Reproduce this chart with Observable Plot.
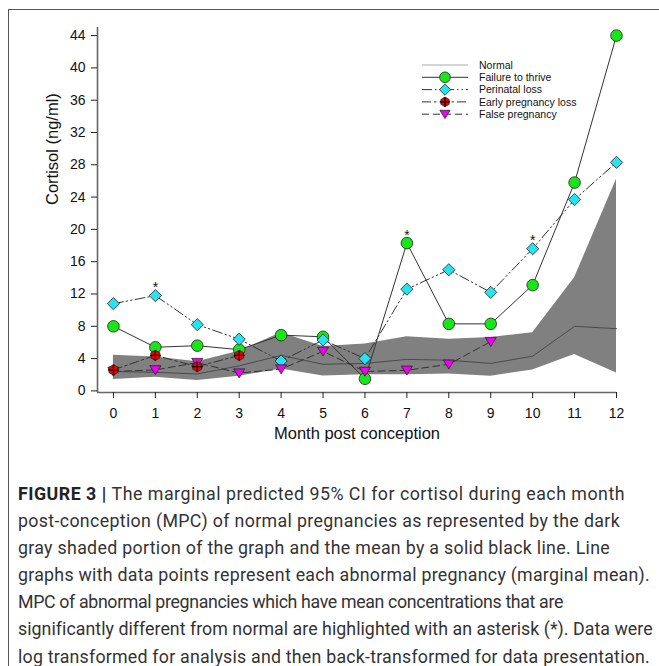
<!DOCTYPE html>
<html><head><meta charset="utf-8">
<script src="https://cdn.jsdelivr.net/npm/d3@7"></script>
<script src="https://cdn.jsdelivr.net/npm/@observablehq/plot@0.6"></script>
<style>
html,body{margin:0;padding:0;background:#fff;overflow:hidden;width:659px;height:666px;}
#frame{position:absolute;left:8px;top:9px;width:700px;height:700px;border-top:1.5px solid #555;border-left:1.5px solid #555;box-sizing:border-box;}
#chart{position:absolute;left:0;top:0;}
#caption{position:absolute;left:18px;top:484px;font-family:Roboto,"Liberation Sans",sans-serif;font-size:17.8px;line-height:20px;color:#333;white-space:nowrap;}
#caption div{height:27.1px;}
#caption div span{display:inline-block;}
#caption b{color:#222;}
</style></head><body>
<div id="frame"></div>
<div id="chart"></div>
<div id="caption"></div>
<script>
// ---------- data ----------
const months = [0,1,2,3,4,5,6,7,8,9,10,11,12];
const yTicks = [0,4,8,12,16,20,24,28,32,36,40,44];

const normalMean  = [2.4, 2.3, 2.1, 3.1, 4.4, 3.3, 3.4, 3.9, 3.8, 3.4, 4.3, 8.0, 7.7];
const normalLower = [1.4, 1.7, 1.3, 1.8, 2.7, 1.85, 2.0, 2.0, 2.1, 1.8, 2.6, 4.5, 2.2];
const normalUpper = [4.4, 4.2, 3.6, 4.9, 7.2, 5.5, 5.8, 6.7, 6.4, 6.6, 7.2, 14.0, 26.2];

const fttMonths = [0,1,2,3,4,5,6,7,8,9,10,11,12];
const fttValues = [8.0, 5.4, 5.6, 5.1, 6.9, 6.7, 1.5, 18.3, 8.3, 8.3, 13.1, 25.8, 44.0];

const perinatalMonths = [0,1,2,3,4,5,6,7,8,9,10,11,12];
const perinatalValues = [10.8, 11.8, 8.2, 6.4, 3.7, 6.3, 4.0, 12.6, 15.0, 12.2, 17.6, 23.7, 28.3];

const earlyMonths = [0,1,2,3];
const earlyValues = [2.6, 4.4, 3.0, 4.4];

const falseMonths = [0,1,2,3,4,5,6,7,8,9];
const falseValues = [2.4, 2.6, 3.5, 2.2, 2.7, 4.9, 2.4, 2.55, 3.3, 6.1];

const sigFTTMonths = [7];
const sigPerinatalMonths = [1, 10];

const seriesNames = ["Normal", "Failure to thrive", "Perinatal loss", "Early pregnancy loss", "False pregnancy"];

const captionLines = [
  "The marginal predicted 95% CI for cortisol during each month",
  "post-conception (MPC) of normal pregnancies as represented by the dark",
  "gray shaded portion of the graph and the mean by a solid black line. Line",
  "graphs with data points represent each abnormal pregnancy (marginal mean).",
  "MPC of abnormal pregnancies which have mean concentrations that are",
  "significantly different from normal are highlighted with an asterisk (*). Data were",
  "log transformed for analysis and then back-transformed for data presentation."
];
// layout: right edge (px) of each caption line in the reference
const captionRight = [625, 620, 610, 650, 563, 652, 650];

// ---------- custom symbols ----------
const hexagon = {draw(ctx, size){ const R = Math.sqrt(size/Math.PI);
  for(let i=0;i<6;i++){const a=-Math.PI/2+i*Math.PI/3; const px=R*Math.cos(a), py=R*Math.sin(a); i?ctx.lineTo(px,py):ctx.moveTo(px,py);} ctx.closePath(); }};
const triangleDown = {draw(ctx, size){ const k = Math.sqrt(size/Math.PI);
  ctx.moveTo(-1.05*k,-0.8*k); ctx.lineTo(1.05*k,-0.8*k); ctx.lineTo(0,0.9*k); ctx.closePath(); }};

// ---------- styles ----------
const styles = {
  "Normal": {line:"#aaaaaa"},
  "Failure to thrive": {fill:"#17e617", symbol:"circle", d3symbol:d3.symbolCircle, r:5.8, dash:null},
  "Perinatal loss": {fill:"#27e3f0", symbol:"diamond2", d3symbol:d3.symbolDiamond2, r:5.5, dash:"10,3,1.5,3,1.5,3"},
  "Early pregnancy loss": {fill:"#ee0000", symbol:hexagon, d3symbol:hexagon, r:5.2, dash:"9,3,2.5,3", plus:true},
  "False pregnancy": {fill:"#f000f0", symbol:triangleDown, d3symbol:triangleDown, r:5.3, dash:"7,4"}
};

const normal = months.map((m,i)=>({month:m, lo:normalLower[i], hi:normalUpper[i], mean:normalMean[i]}));
const rows = (ms, vs) => ms.map((m,i)=>({month:m, value:vs[i]}));
const seriesData = {
  "Failure to thrive": rows(fttMonths, fttValues),
  "Perinatal loss": rows(perinatalMonths, perinatalValues),
  "False pregnancy": rows(falseMonths, falseValues),
  "Early pregnancy loss": rows(earlyMonths, earlyValues)
};
const sigRows = [
  ...sigFTTMonths.map(m => ({month:m, value:fttValues[fttMonths.indexOf(m)]})),
  ...sigPerinatalMonths.map(m => ({month:m, value:perinatalValues[perinatalMonths.indexOf(m)]}))
];

const xDomain = [-0.38, 12];
const yDomain = [-0.2, 45];

const marks = [
  Plot.areaY(normal, {x:"month", y1:"lo", y2:"hi", fill:"#808080"}),
  Plot.lineY(normal, {x:"month", y:"mean", stroke:"#4a4a4a", strokeWidth:1})
];
for (const name of Object.keys(seriesData)) {
  const st = styles[name];
  marks.push(Plot.line(seriesData[name], {x:"month", y:"value", stroke:"#333", strokeWidth:1, strokeDasharray:st.dash}));
}
for (const name of Object.keys(seriesData)) {
  const st = styles[name];
  marks.push(Plot.dot(seriesData[name], {x:"month", y:"value", fill:st.fill, stroke:"#222", strokeWidth:0.8, symbol:st.symbol, r:st.r}));
  if (st.plus) marks.push(Plot.dot(seriesData[name], {x:"month", y:"value", symbol:"plus", r:3.6, stroke:"#000", strokeWidth:1.3}));
}
marks.push(
  Plot.text(sigRows, {x:"month", y:"value", text:()=>"*", dy:-8, fontSize:14, fill:"#111"}),
  Plot.ruleX([xDomain[0]], {stroke:"#666", strokeWidth:1.6}),
  Plot.ruleY([yDomain[0]], {stroke:"#666", strokeWidth:1.6}),
  Plot.axisY({ticks:yTicks, tickSize:6, tickPadding:6, label:null, stroke:"#222"}),
  Plot.axisX({ticks:months, tickSize:6, tickPadding:10, label:null, stroke:"#222"}),
  Plot.text(["Cortisol (ng/ml)"], {text:d=>d, frameAnchor:"left", rotate:-90, dx:-45, dy:-5, fontSize:16.5, fill:"#111"}),
  Plot.text(["Month post conception"], {text:d=>d, frameAnchor:"bottom", dy:46, fontSize:16.5, fill:"#111"})
);

const plot = Plot.plot({
  width:659, height:455,
  marginLeft:97, marginRight:43, marginTop:27, marginBottom:63,
  x:{domain:xDomain}, y:{domain:yDomain},
  style:{fontFamily:"'Liberation Sans', Arial, sans-serif", fontSize:"14px", color:"#111", background:"transparent"},
  marks
});
document.getElementById("chart").appendChild(plot);

// ---------- legend ----------
const svg = d3.select(plot);
const lg = svg.append("g").attr("font-family","'Liberation Sans', Arial, sans-serif").attr("font-size",10.5).attr("fill","#111").attr("text-anchor","start");
const legX1 = 422, legX2 = 468, legMark = 445, legText = 479, legTop = 65, legStep = 12.3;
seriesNames.forEach((name, i) => {
  const st = styles[name];
  const y = legTop + i*legStep;
  lg.append("line").attr("x1",legX1).attr("x2",legX2).attr("y1",y).attr("y2",y)
    .attr("stroke", st.line || "#333").attr("stroke-width",1).attr("stroke-dasharray", st.dash || null);
  if (st.d3symbol) {
    const rr = st.r*0.92;
    lg.append("path").attr("d", d3.symbol(st.d3symbol, Math.PI*rr*rr)())
      .attr("transform",`translate(${legMark},${y})`).attr("fill",st.fill).attr("stroke","#222").attr("stroke-width",0.8);
    if (st.plus) lg.append("path").attr("d", d3.symbol(d3.symbolPlus, Math.PI*3.3*3.3)())
      .attr("transform",`translate(${legMark},${y})`).attr("fill","none").attr("stroke","#000").attr("stroke-width",1.2);
  }
  lg.append("text").attr("x",legText).attr("y",y).attr("dy","0.35em").attr("text-anchor","start").text(name);
});

// ---------- caption ----------
const cap = document.getElementById("caption");
captionLines.forEach((t,i) => {
  const div = document.createElement("div");
  const span = document.createElement("span");
  if (i === 0) { const b = document.createElement("b"); b.textContent = "FIGURE 3 | "; span.appendChild(b); }
  span.appendChild(document.createTextNode(t));
  div.appendChild(span);
  cap.appendChild(div);
  const w = span.getBoundingClientRect().width;
  const target = captionRight[i] - 18;
  const n = (i === 0 ? 11 : 0) + t.length;
  span.style.letterSpacing = ((target - w) / n) + "px";
});
</script>
</body></html>
